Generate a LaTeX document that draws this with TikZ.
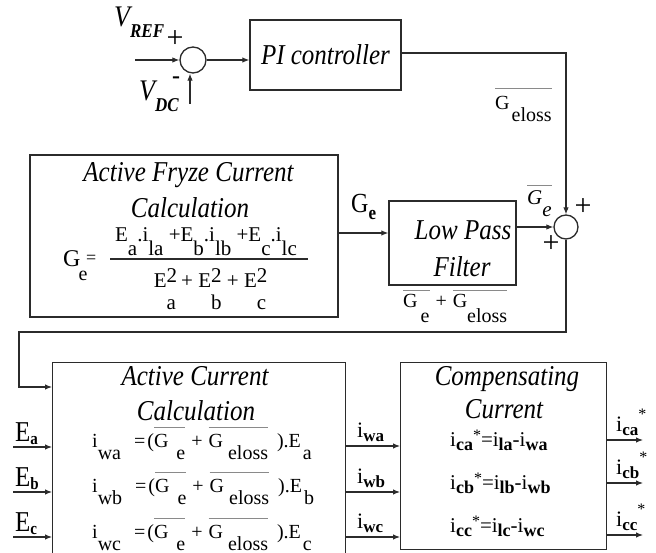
\documentclass[tikz,border=0pt]{standalone}
\usepackage{fontspec}
\usepackage{graphicx}
\setmainfont{Liberation Serif}
\usetikzlibrary{arrows.meta}
\definecolor{ln}{HTML}{2B2B2B}
\definecolor{ovlc}{HTML}{8A8A8A}
\newcommand{\fsz}[1]{\fontsize{#1}{#1}\selectfont}
\newcommand{\vs}[1]{\scalebox{1}[1.15]{#1}}
\newsavebox\ovlbox
\newcommand{\ovl}[2][6pt]{\sbox\ovlbox{#2}\rlap{\raisebox{\dimexpr\ht\ovlbox+#1\relax}{\textcolor{ovlc}{\rule{\wd\ovlbox}{1.1pt}}}}\usebox\ovlbox}
\newcommand{\lo}[2][-12pt]{\raisebox{#1}{#2}}
\newcommand{\supsub}[2]{\rlap{\raisebox{5pt}{#1}}\raisebox{-21pt}{#2}}
\begin{document}
\begin{tikzpicture}[x=1pt,y=-1pt,
  blk/.style={draw=ln, line width=1.4pt, rectangle, inner sep=0pt},
  sumc/.style={draw=ln, line width=1.3pt, circle, inner sep=0pt},
  wire/.style={draw=ln, line width=1.1pt},
  arr/.style={wire, -{Latex[length=7pt,width=5.5pt]}},
  lbl/.style={inner sep=0pt, anchor=base west},
  ttl/.style={inner sep=0pt, anchor=base, font=\fsz{25}\itshape},
  frm/.style={inner sep=0pt, anchor=base west, font=\fsz{20}},
  sgn/.style={inner sep=0pt, font=\fsz{30}}]
\clip (0,0) rectangle (656,553);
\fill[white] (0,0) rectangle (656,553);

% --- summing junction 1 and PI controller
\node[sumc, minimum size=26pt] (s1) at (193,60) {};
\coordinate (vin) at (135,60);
\coordinate (vdc) at (190,104);
\draw[arr] (vin) -- (s1.west);
\draw[arr] (vdc) -- (vdc |- s1.south);
\node[lbl] (vref) at (114,27) {\vs{\fsz{26}\itshape V\raisebox{-9pt}{\fsz{17}\bfseries\itshape REF}}};
\node[lbl] (vdcl) at (139,101) {\vs{\fsz{26}\itshape V\raisebox{-9pt}{\fsz{17}\bfseries\itshape DC}}};
\node[sgn] (p1) at (175,39) {+};
\node[inner sep=0pt, font=\fsz{24}\bfseries] (m1) at (176,80) {-};
\node[blk, minimum width=151pt, minimum height=70pt, font=\fsz{25}\itshape] (pi) at (325.5,55) {\vs{PI controller}};
\draw[arr] (s1.east) -- (s1.east -| pi.west);

% --- summing junction 2
\node[sumc, minimum size=24pt] (s2) at (566,227) {};
\draw[arr] ([yshift=2pt]pi.east) -| (s2.north);
\node[lbl, font=\fsz{20}] (gel) at (495,110) {\ovl[8pt]{G\hspace{2pt}\lo{eloss}}};
\node[sgn] (p2) at (583,207) {+};
\node[sgn] (p3) at (551,244) {+};

% --- Fryze block
\node[blk, minimum width=308pt, minimum height=162pt] (fz) at (184,236) {};
\node[ttl] (fzt1) at (188.5,182) {\vs{Active Fryze Current}};
\node[ttl] (fzt2) at (190,218) {\vs{Calculation}};
\node[frm] (fzg) at (63,267) {\fsz{24}G\hspace{-2pt}\lo[-14pt]{\fsz{20}e}};
\node[lbl, font=\fsz{18}] (fzeq) at (86,264) {=};
\coordinate (fl1) at (110,259);
\coordinate (fl2) at (308,259);
\draw[ln, line width=1.1pt] (fl1) -- (fl2);
\node[frm, anchor=base, font=\fsz{21}] (fznum) at (206,242) {E\lo[-14pt]{a}.i\lo[-14pt]{la} +E\lo[-14pt]{b}.i\lo[-14pt]{lb} +E\lo[-14pt]{c}.i\lo[-14pt]{lc}};
\node[frm, anchor=base, font=\fsz{21}] (fzden) at (210,288) {E\supsub{2}{a} + E\supsub{2}{b} + E\supsub{2}{c}};

% --- low pass filter
\node[blk, minimum width=127pt, minimum height=84pt] (lpf) at (452.5,243) {};
\node[ttl] (lp1) at (463,240) {\vs{Low Pass}};
\node[ttl] (lp2) at (462,277) {\vs{Filter}};
\draw[arr] ([yshift=3pt]fz.east) -- ([yshift=3pt]fz.east -| lpf.west);
\node[lbl] (gel2) at (351,213) {\vs{\fsz{24}G\raisebox{-6pt}{\fsz{17}\bfseries e}}};
\draw[arr] ([yshift=16pt]lpf.east) -- (s2.west);
\node[lbl, font=\fsz{21}\itshape] (gbar) at (527,205) {\ovl[5pt]{G\lo{e}}};
\node[lbl, font=\fsz{20}] (lpsum) at (403,308) {\ovl[4pt]{G\hspace{3pt}\lo[-15pt]{e}}\hspace{6pt}+\hspace{6pt}\ovl[4pt]{G\lo[-15pt]{eloss}}};

% --- feedback to active current block
\node[blk, anchor=north west, minimum width=293pt, minimum height=200pt] (ac) at (52,362) {};
\coordinate (k1) at (19,332);
\draw[arr] (s2.south) |- (k1) |- ([yshift=-25pt]ac.north west);
\node[ttl] (act1) at (195,385) {\vs{Active Current}};
\node[ttl] (act2) at (196,420) {\vs{Calculation}};
\node[frm] (fa) at (92,447) {i\lo{wa}\hspace{13pt}=\hspace{2pt}(\ovl{G\hspace{8pt}\lo{e}}\hspace{6pt}+\hspace{6pt}\ovl{G\hspace{5pt}\lo{eloss}}\hspace{9pt}).E\hspace{2pt}\lo{a}};
\node[frm] (fb) at (92,492) {i\lo{wb}\hspace{13pt}=\hspace{2pt}(\ovl{G\hspace{8pt}\lo{e}}\hspace{6pt}+\hspace{6pt}\ovl{G\hspace{5pt}\lo{eloss}}\hspace{9pt}).E\hspace{2pt}\lo{b}};
\node[frm] (fc) at (92,538) {i\lo{wc}\hspace{13pt}=\hspace{2pt}(\ovl{G\hspace{8pt}\lo{e}}\hspace{6pt}+\hspace{6pt}\ovl{G\hspace{5pt}\lo{eloss}}\hspace{9pt}).E\hspace{2pt}\lo{c}};

% --- inputs E
\coordinate (ea) at (13,447);
\coordinate (eb) at (13,492);
\coordinate (ec) at (13,537);
\draw[arr] (ea) -- (ea -| ac.west);
\draw[arr] (eb) -- (eb -| ac.west);
\draw[arr] (ec) -- (ec -| ac.west);
\node[lbl] (la) at (15,441) {\vs{\fsz{25}E\raisebox{-3pt}{\fsz{15}\bfseries a}}};
\node[lbl] (lb) at (15,486) {\vs{\fsz{25}E\raisebox{-3pt}{\fsz{15}\bfseries b}}};
\node[lbl] (lc) at (15,531) {\vs{\fsz{25}E\raisebox{-3pt}{\fsz{15}\bfseries c}}};

% --- compensating current block
\node[blk, anchor=north west, minimum width=206pt, minimum height=187pt] (cc) at (400,362) {};
\node[ttl] (cct1) at (507,385) {\vs{Compensating}};
\node[ttl] (cct2) at (504,418) {\vs{Current}};
\node[frm, font=\fsz{21}] (ca) at (450,446) {i\lo[-4pt]{\fsz{18}\bfseries ca}\raisebox{6pt}{\fsz{16}*}=i\lo[-4pt]{\fsz{18}\bfseries la}-i\lo[-4pt]{\fsz{18}\bfseries wa}};
\node[frm, font=\fsz{21}] (cb) at (450,489) {i\lo[-4pt]{\fsz{18}\bfseries cb}\raisebox{6pt}{\fsz{16}*}=i\lo[-4pt]{\fsz{18}\bfseries lb}-i\lo[-4pt]{\fsz{18}\bfseries wb}};
\node[frm, font=\fsz{21}] (cc3) at (450,532) {i\lo[-4pt]{\fsz{18}\bfseries cc}\raisebox{6pt}{\fsz{16}*}=i\lo[-4pt]{\fsz{18}\bfseries lc}-i\lo[-4pt]{\fsz{18}\bfseries wc}};

% --- weighted currents between blocks
\coordinate (wa) at (345,446);
\coordinate (wb) at (345,492);
\coordinate (wc) at (345,537);
\draw[arr] (wa) -- (wa -| cc.west);
\draw[arr] (wb) -- (wb -| cc.west);
\draw[arr] (wc) -- (wc -| cc.west);
\node[lbl] (lwa) at (357,437) {\fsz{22}i\raisebox{-4pt}{\fsz{17}\bfseries wa}};
\node[lbl] (lwb) at (357,483) {\fsz{22}i\raisebox{-4pt}{\fsz{17}\bfseries wb}};
\node[lbl] (lwc) at (357,528) {\fsz{22}i\raisebox{-4pt}{\fsz{17}\bfseries wc}};

% --- outputs
\coordinate (oa) at (643,440);
\coordinate (ob) at (643,483);
\coordinate (oc) at (643,535);
\draw[arr] (oa -| cc.east) -- (oa);
\draw[arr] (ob -| cc.east) -- (ob);
\draw[arr] (oc -| cc.east) -- (oc);
\node[lbl] (lca) at (616,431) {\fsz{22}i\raisebox{-4pt}{\fsz{17}\bfseries ca}\raisebox{12pt}{\fsz{16}*}};
\node[lbl] (lcb) at (616,474) {\fsz{22}i\raisebox{-4pt}{\fsz{17}\bfseries cb}\raisebox{12pt}{\fsz{16}*}};
\node[lbl] (lcc) at (616,526) {\fsz{22}i\raisebox{-4pt}{\fsz{17}\bfseries cc}\raisebox{12pt}{\fsz{16}*}};
\end{tikzpicture}
\end{document}
